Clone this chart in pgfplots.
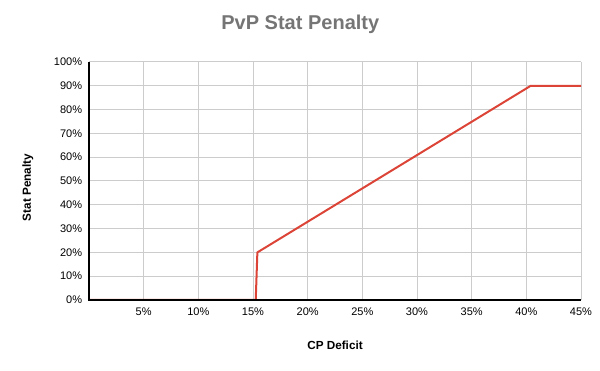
\documentclass[border=0pt]{standalone}
\usepackage{pgfplots}
\pgfplotsset{compat=1.18}
\usepackage{fontspec}
\setmainfont{Liberation Sans}
\definecolor{gridgray}{HTML}{CCCCCC}
\definecolor{titlegray}{HTML}{757575}
\definecolor{linered}{HTML}{DB4437}
\begin{document}
\begin{tikzpicture}
\path[use as bounding box] (0,0) rectangle (450pt,278.25pt);
\begin{axis}[
  at={(66.75pt,53.25pt)}, anchor=south west,
  scale only axis, width=369pt, height=178.5pt,
  xmin=0, xmax=45, ymin=0, ymax=100,
  xtick={5,10,...,45},
  xticklabels={5\%,10\%,15\%,20\%,25\%,30\%,35\%,40\%,45\%},
  ytick={0,10,...,100},
  yticklabels={0\%,10\%,20\%,30\%,40\%,50\%,60\%,70\%,80\%,90\%,100\%},
  major tick length=0pt,
  grid=major,
  major grid style={gridgray, line width=0.75pt},
  axis line style={draw=none},
  tick label style={font=\fontsize{8.25pt}{9pt}\selectfont, text=black},
  /pgf/number format/assume math mode=true,
  xticklabel style={inner sep=0pt, yshift=-6pt},
  yticklabel style={inner sep=0pt, xshift=-5pt},
  title={PvP Stat Penalty},
  title style={at={(axis description cs:0.4295,1.1038)}, anchor=base,
    font=\fontsize{15pt}{18pt}\selectfont\bfseries, text=titlegray},
  xlabel={CP Deficit},
  xlabel style={at={(axis description cs:0.5,-0.2059)}, anchor=base,
    font=\fontsize{8.8pt}{10pt}\selectfont\bfseries},
  ylabel={Stat Penalty},
  ylabel style={at={(axis description cs:-0.1179,0.4727)}, anchor=base, rotate=0,
    font=\fontsize{8.8pt}{10pt}\selectfont\bfseries},
  clip=false,
]
\addplot[linered, line width=1.5pt, line join=round] coordinates {
  (0,0) (15.25,0) (15.4,20) (40.4,90) (45,90)
};
\draw[black, line width=0.9pt] (axis cs:0,100) -- (axis cs:0,0) -- (axis cs:45,0);
\end{axis}
\end{tikzpicture}
\end{document}
